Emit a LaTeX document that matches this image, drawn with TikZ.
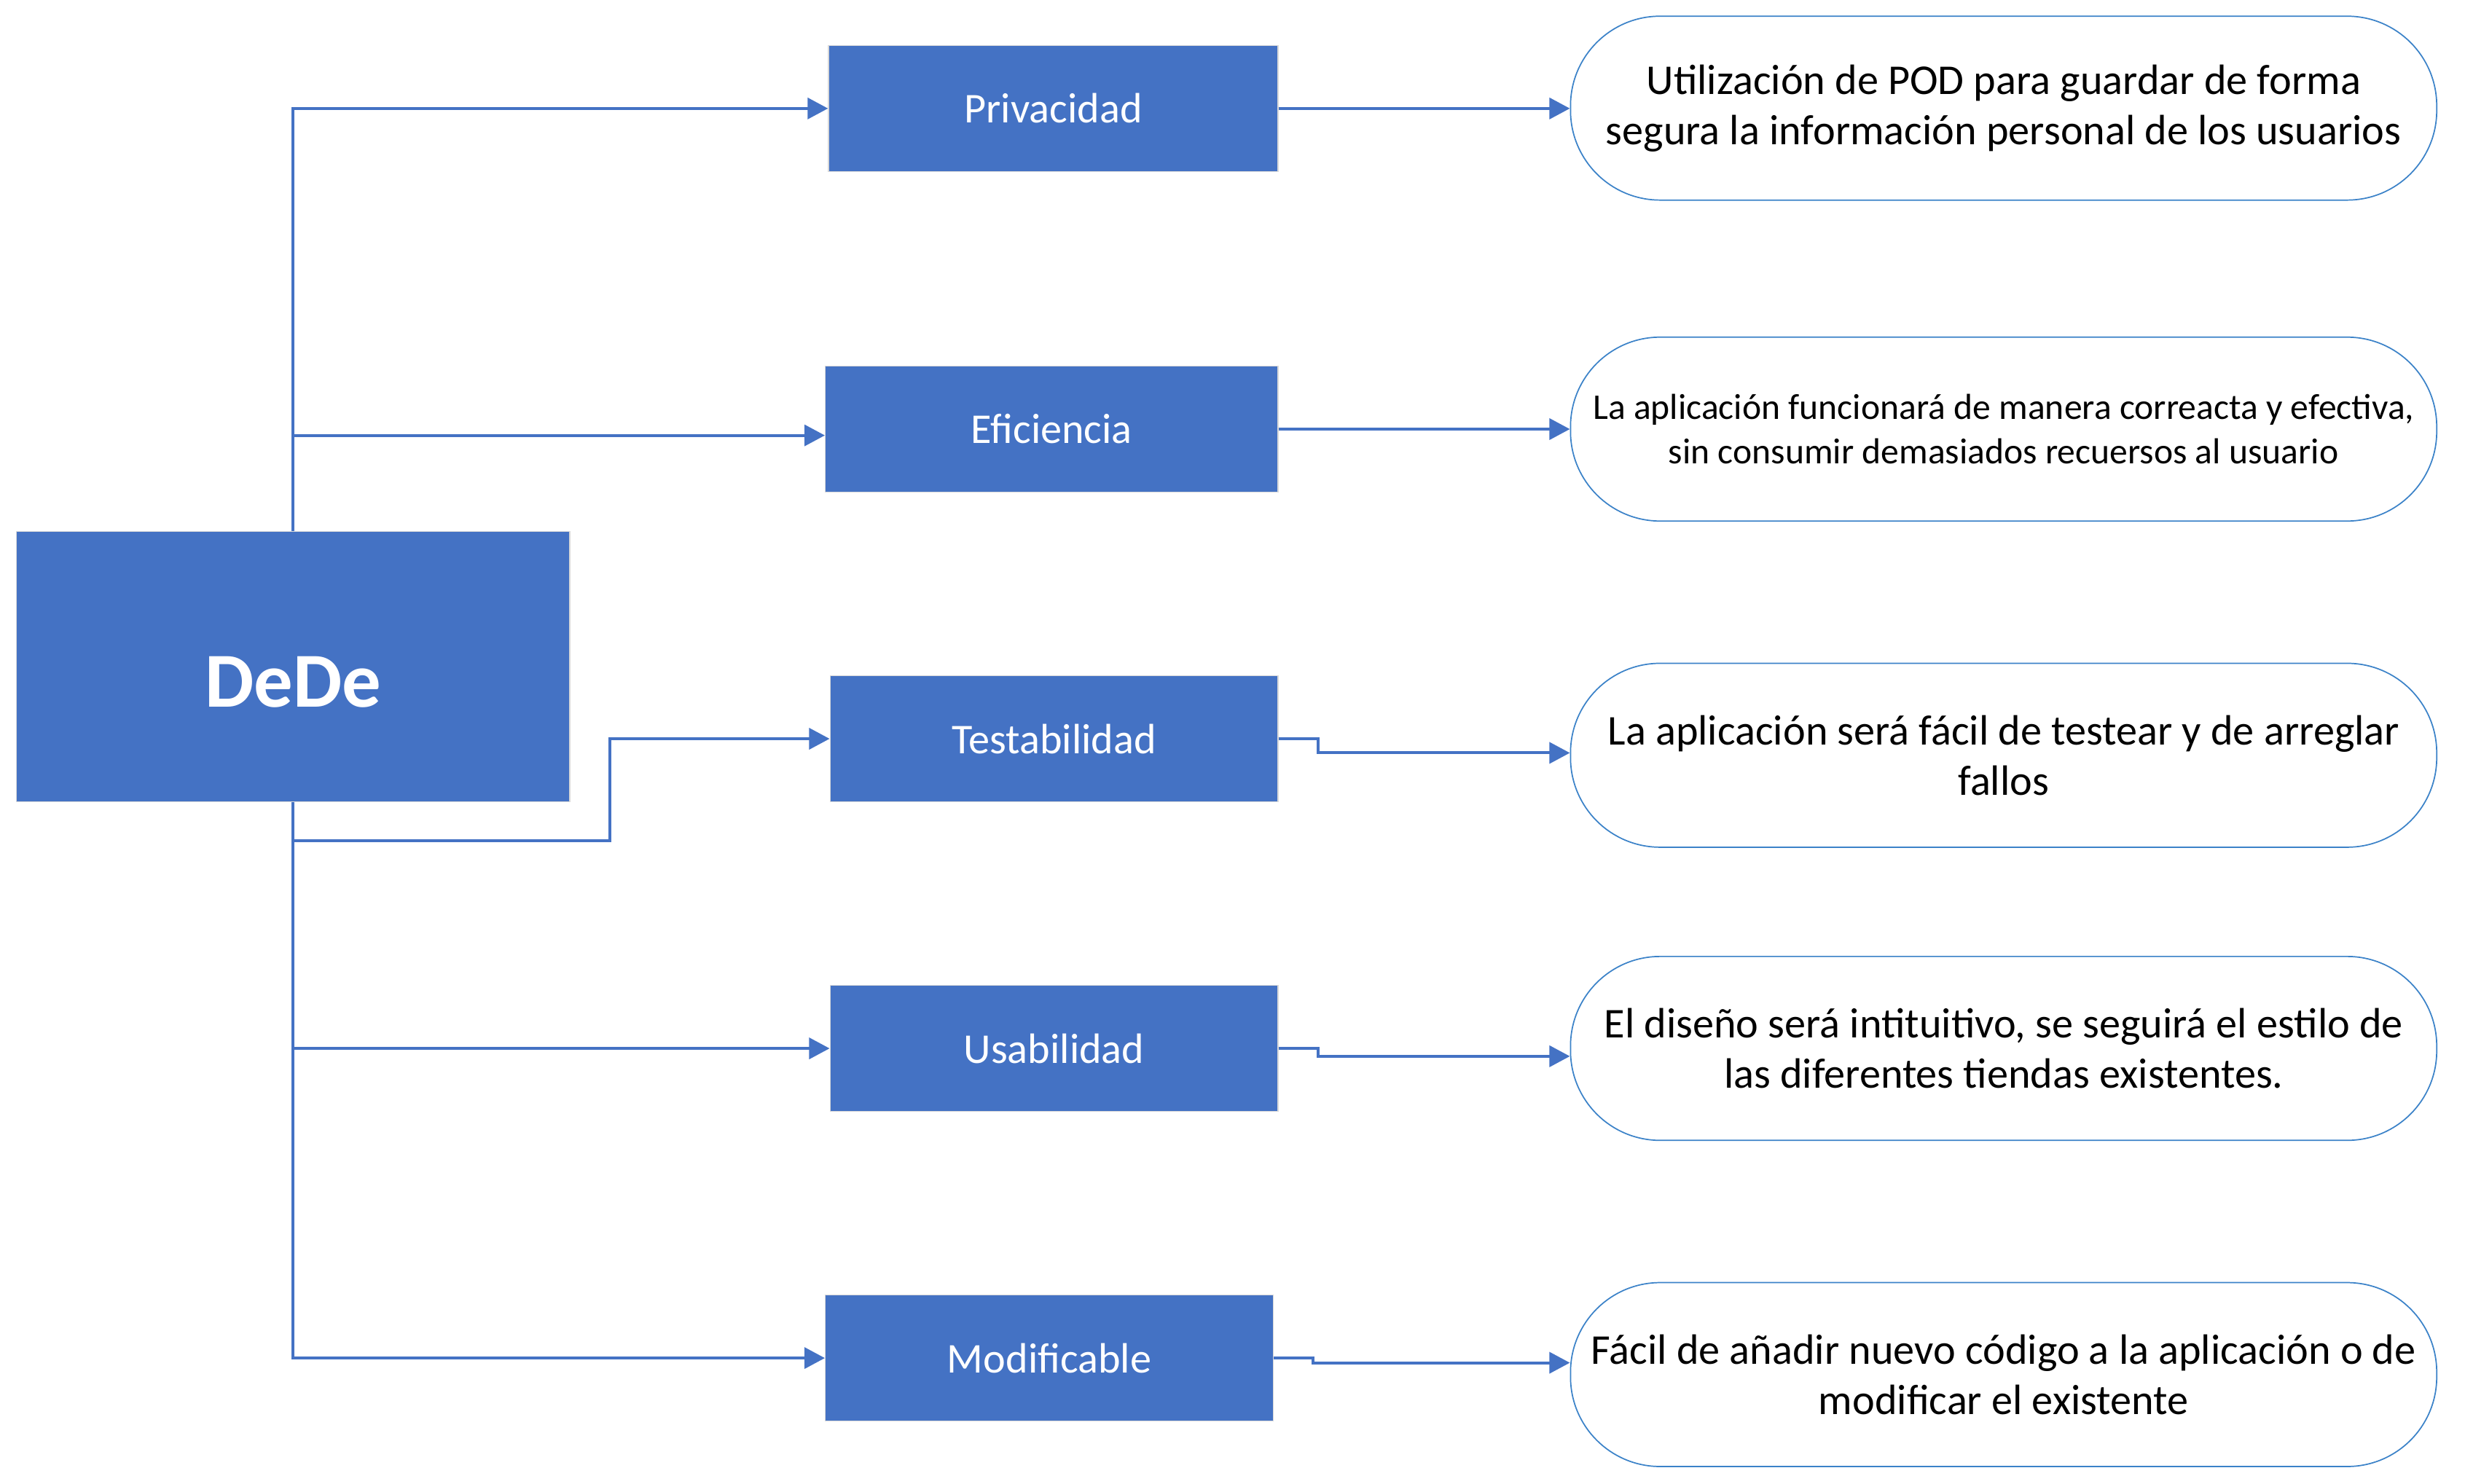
\documentclass[tikz,border=0pt]{standalone}
\usepackage{fontspec}
\setmainfont{Carlito}
\usetikzlibrary{arrows.meta,calc}
\definecolor{boxblue}{HTML}{4472C4}
\definecolor{edgeblue}{HTML}{3B82C8}
\begin{document}
\begin{tikzpicture}[x=1pt,y=-1pt,
  bluebox/.style={fill=boxblue, draw=black!15, line width=0.6pt, text=white,
    font=\fontsize{27}{32}\selectfont, inner sep=0pt},
  descbox/.style={fill=white, draw=edgeblue, line width=0.8pt, rounded corners=57pt,
    minimum width=551pt, minimum height=117pt, align=center, inner sep=0pt,
    font=\fontsize{27}{32}\selectfont},
  conn/.style={draw=boxblue, line width=1.85pt, -{Triangle[length=13pt,width=13.4pt]}},
]
\useasboundingbox (0,0) rectangle (1568,944.1);

% blue boxes
\node[bluebox, minimum width=352pt, minimum height=172pt,
      font=\bfseries\fontsize{49.5}{58}\selectfont, text height=51.5pt, text depth=0pt] (dede) at (186.5,424) {DeDe};
\node[bluebox, minimum width=286pt, minimum height=80pt] (priv) at (670,69) {Privacidad};
\node[bluebox, minimum width=288pt, minimum height=80pt] (efic) at (669,273) {Eficiencia};
\node[bluebox, minimum width=285pt, minimum height=80pt] (test) at (670.5,470) {Testabilidad};
\node[bluebox, minimum width=285pt, minimum height=80pt] (usab) at (670.5,667) {Usabilidad};
\node[bluebox, minimum width=285pt, minimum height=80pt] (modif) at (667.5,864) {Modificable};

% description boxes
\node[descbox] (r1) at (1274.5,68.8) {Utilización de POD para guardar de forma\\segura la información personal de los usuarios};
\node[descbox, font=\fontsize{23}{28}\selectfont] (r2) at (1274.5,273) {La aplicación funcionará de manera correacta y efectiva,\\sin consumir demasiados recuersos al usuario};
\node[descbox] (r3) at (1274.5,480.5) {La aplicación será fácil de testear y de arreglar\\fallos};
\node[descbox] (r4) at (1274.5,667) {El diseño será intituitivo, se seguirá el estilo de\\las diferentes tiendas existentes.};
\node[descbox] (r5) at (1274.5,874.5) {Fácil de añadir nuevo código a la aplicación o de\\modificar el existente};

% trunk connectors
\draw[conn] (dede.north) |- (priv.west);
\draw[conn] (dede.north |- 0,277) -- (efic.west |- 0,277);
\draw[conn] (dede.south |- 0,535) -- (388,535) |- (test.west);
\draw[conn] (dede.south |- usab.west) -- (usab.west);
\draw[conn] (dede.south) |- (modif.west);

% right connectors
\draw[conn] (priv.east) -- (priv.east -| r1.west);
\draw[conn] (efic.east) -- (r2.west);
\draw[conn] (test.east) -- ++(25,0) |- ($(r3.west)+(0,-1.5)$);
\draw[conn] (usab.east) -- ++(25,0) |- ($(r4.west)+(0,5)$);
\draw[conn] (modif.east) -- ++(25,0) |- ($(r5.west)+(0,-7.5)$);
\end{tikzpicture}
\end{document}
